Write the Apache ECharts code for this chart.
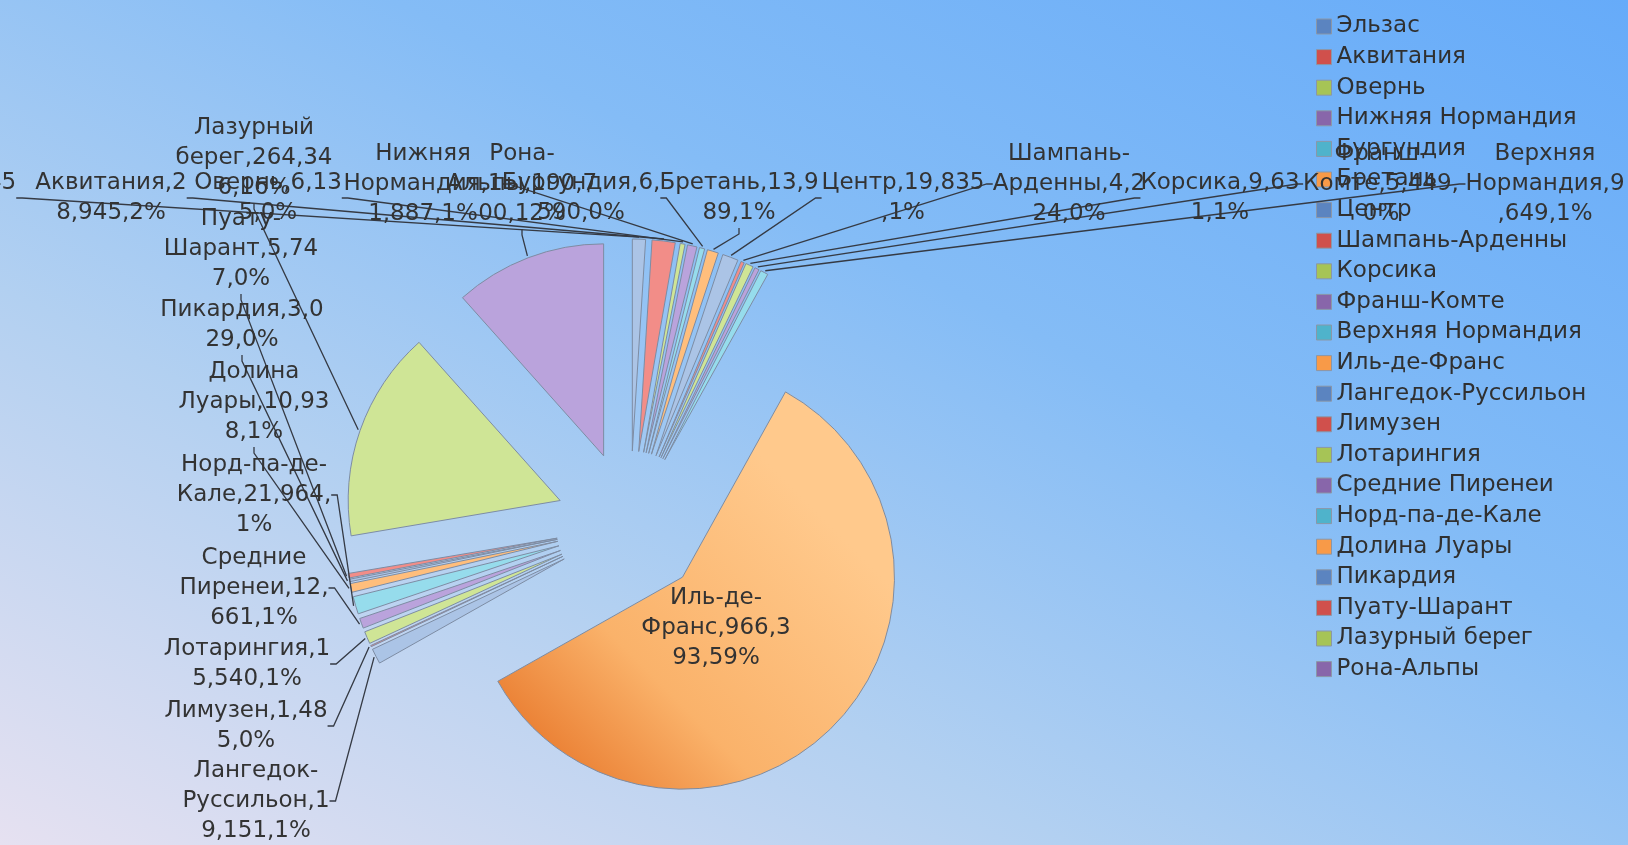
<!DOCTYPE html>
<html>
<head>
<meta charset="utf-8">
<script src="https://cdn.jsdelivr.net/npm/echarts@6/dist/echarts.min.js"></script>
<style>
  html, body { margin: 0; padding: 0; }
  #chart {
    width: 1628px;
    height: 845px;
    background: linear-gradient(to top right, #e6e1f1 0%, #b2d0f1 33%, #84bcf6 62%, #66abf9 100%);
  }
</style>
</head>
<body>
<div id="chart"></div>
<script>
// regions in drawing order (clockwise from 12 o'clock)
const regions = ['Эльзас', 'Аквитания', 'Овернь', 'Нижняя Нормандия', 'Бургундия', 'Бретань',
  'Центр', 'Шампань-Арденны', 'Корсика', 'Франш-Комте', 'Верхняя Нормандия', 'Иль-де-Франс',
  'Лангедок-Руссильон', 'Лимузен', 'Лотарингия', 'Средние Пиренеи', 'Норд-па-де-Кале',
  'Долина Луары', 'Пикардия', 'Пуату-Шарант', 'Лазурный берег', 'Рона-Альпы'];
const values = [16455, 28945, 6135, 11887, 6590, 13989,
  19835, 4224, 9631, 5449, 9649, 966393,
  19151, 1485, 15540, 12661, 21964,
  10938, 3029, 5747, 264346, 190700];

// colours
const legendColors = ['#5b84c0', '#d0504c', '#a6c456', '#8866aa', '#4fb3cb', '#f89a48'];
const sliceColors = ['#abc4e6', '#f28d88', '#cfe596', '#baa3dc', '#96dcec', '#ffbe7c'];

// label anchor points (label centre), one per region
const labelPos = [
  [-62, 198], [111, 198], [268, 198], [423, 184], [581, 198], [739, 198],
  [903, 198], [1069, 184], [1220, 198], [1381, 184], [1545, 184], [716, 628],
  [256, 801], [246, 726], [247, 664], [254, 588], [254, 495],
  [254, 402], [242, 325], [241, 249], [254, 158], [522, 184]
];

const CENTER = [630, 525];
const RADIUS = 212;
const EXPLODE = 74;

// line breaks are decided with arial-like metrics (as the original did),
// the text itself is drawn with DejaVu Sans
const ctx = document.createElement('canvas').getContext('2d');
ctx.font = '100px "Liberation Sans"';
const WRAP_W = 622;
const tw = s => ctx.measureText(s).width;

function wrap(text) {
  const tokens = text.split(/(?<=[ \-])/);
  const lines = [];
  let line = '';
  tokens.forEach(tok => {
    if (tw((line + tok).trimEnd()) <= WRAP_W) {
      line += tok;
      return;
    }
    if (line) { lines.push(line.trimEnd()); line = ''; }
    if (tw(tok.trimEnd()) <= WRAP_W) { line = tok; return; }
    for (const ch of tok) {
      if (tw(line + ch) > WRAP_W) { lines.push(line); line = ch; }
      else line += ch;
    }
  });
  if (line) lines.push(line.trimEnd());
  return lines.join('\n');
}

const idfGradient = new echarts.graphic.LinearGradient(0, 1, 0.75, 0.25, [
  { offset: 0, color: '#e3681a' },
  { offset: 0.45, color: '#fab26a' },
  { offset: 1, color: '#ffc98c' }
]);

const sliceData = regions.map((name, i) => ({
  name: name,
  value: values[i],
  selected: true,
  itemStyle: { color: i === 11 ? idfGradient : sliceColors[i % 6] }
}));

// invisible ring at the exploded outer edge, it only carries the labels
const labelData = regions.map((name, i) => {
  const item = { name: name, value: values[i] };
  if (i === 11) item.labelLine = { lineStyle: { opacity: 0 } };
  return item;
});

const chart = echarts.init(document.getElementById('chart'));

const option = {
  backgroundColor: 'transparent',
  animation: false,
  legend: {
    orient: 'vertical',
    left: 1311,
    top: 10,
    itemWidth: 15,
    itemHeight: 15,
    itemGap: 7.6,
    icon: 'rect',
    selectedMode: false,
    textStyle: { fontFamily: 'DejaVu Sans', fontSize: 23, color: '#303030' },
    data: regions.map((name, i) => ({
      name: name,
      itemStyle: { color: legendColors[i % 6], borderColor: '#8a97a8', borderWidth: 1 }
    }))
  },
  series: [
    {
      type: 'pie',
      z: 2,
      center: CENTER,
      radius: RADIUS,
      startAngle: 90,
      clockwise: true,
      selectedMode: 'multiple',
      selectedOffset: EXPLODE,
      silent: true,
      itemStyle: { borderColor: '#7d8ca3', borderWidth: 1 },
      select: { itemStyle: { borderColor: '#7d8ca3', borderWidth: 1 } },
      label: { show: false },
      labelLine: { show: false },
      data: sliceData
    },
    {
      type: 'pie',
      z: 5,
      center: CENTER,
      radius: [RADIUS + EXPLODE - 2, RADIUS + EXPLODE + 2],
      startAngle: 90,
      clockwise: true,
      silent: true,
      avoidLabelOverlap: false,
      itemStyle: { color: 'rgba(0,0,0,0)', borderWidth: 0 },
      label: {
        show: true,
        position: 'outside',
        fontFamily: 'DejaVu Sans',
        fontSize: 23,
        lineHeight: 30,
        color: '#333333',
        align: 'center',
        formatter: p => wrap(p.name + ',' + p.value.toLocaleString('en-US') + ',' + Math.round(p.percent) + '%')
      },
      labelLine: {
        show: true,
        length: 8,
        length2: 6,
        lineStyle: { color: '#353a44', width: 1.3 }
      },
      labelLayout: params => {
        const p = labelPos[params.dataIndex];
        return { x: p[0], y: p[1], align: 'center', verticalAlign: 'middle' };
      },
      data: labelData
    }
  ]
};

chart.setOption(option);
</script>
</body>
</html>
